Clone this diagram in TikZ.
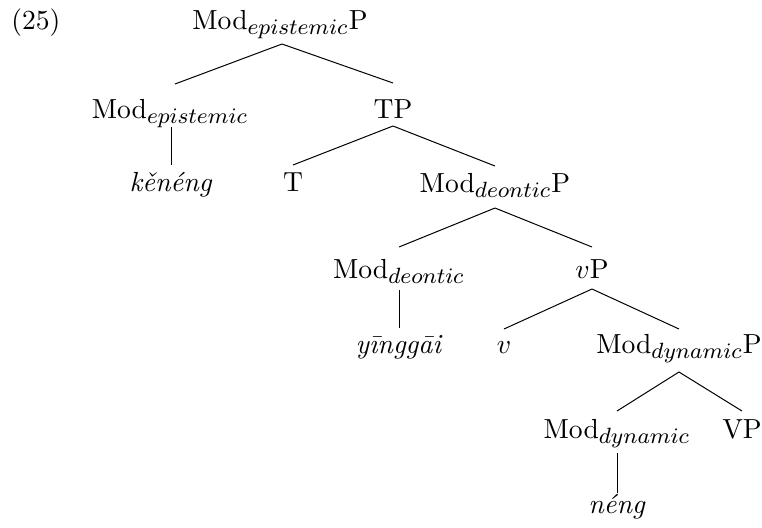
\documentclass[tikz,border=0pt]{standalone}
\usepackage{fontspec}
\usepackage{graphicx}
\usetikzlibrary{calc}
\DeclareMathSizes{10}{10}{7.7}{5}
\newcommand{\tx}[1]{\scalebox{1.38}{\fontsize{10}{12}\selectfont #1}}
\begin{document}
\begin{tikzpicture}[x=0.5pt,y=-0.5pt,
  lab/.style={anchor=base,inner sep=0pt},
  br/.style={line width=0.5pt}]
\useasboundingbox (0,0) rectangle (762,527);
\node[lab,anchor=base west] (ex) at (11,29) {\tx{(25)}};
\node[lab] (r) at (280,29) {\tx{Mod$_{epistemic}$P}};
\node[lab] (me) at (170,118) {\tx{Mod$_{epistemic}$}};
\node[lab] (tp) at (393,118) {\tx{TP}};
\node[lab] (ken) at (171,191) {\tx{\textit{kěnéng}}};
\node[lab] (t) at (293,191) {\tx{T}};
\node[lab] (mdp) at (495,192) {\tx{Mod$_{deontic}$P}};
\node[lab] (md) at (399,278) {\tx{Mod$_{deontic}$}};
\node[lab] (vp) at (592,278) {\tx{$v$P}};
\node[lab] (ying) at (399,353) {\tx{\textit{yīnggāi}}};
\node[lab] (v) at (504,353) {\tx{$v$}};
\node[lab] (mdyp) at (679,353) {\tx{Mod$_{dynamic}$P}};
\node[lab] (mdy) at (617,438) {\tx{Mod$_{dynamic}$}};
\node[lab] (vpp) at (742,438) {\tx{VP}};
\node[lab] (neng) at (617,513) {\tx{\textit{néng}}};
\draw[br] ($(r.base)+(2,15)$) -- ($(me.base)+(5,-34)$);
\draw[br] ($(r.base)+(2,15)$) -- ($(tp.base)+(0,-35)$);
\draw[br] ($(me.base)+(1,9)$) -- ($(ken.base)+(0,-26)$);
\draw[br] ($(tp.base)+(0,8)$) -- ($(t.base)+(0,-26)$);
\draw[br] ($(tp.base)+(0,8)$) -- ($(mdp.base)+(0,-26)$);
\draw[br] ($(mdp.base)+(0,16)$) -- ($(md.base)+(0,-31)$);
\draw[br] ($(mdp.base)+(0,16)$) -- ($(vp.base)+(0,-31)$);
\draw[br] ($(md.base)+(0,12)$) -- ($(ying.base)+(0,-25)$);
\draw[br] ($(vp.base)+(0,11)$) -- ($(v.base)+(0,-24)$);
\draw[br] ($(vp.base)+(0,11)$) -- ($(mdyp.base)+(0,-24)$);
\draw[br] ($(mdyp.base)+(0,19)$) -- ($(mdy.base)+(0,-27)$);
\draw[br] ($(mdyp.base)+(0,19)$) -- ($(vpp.base)+(0,-27)$);
\draw[br] ($(mdy.base)+(0,15)$) -- ($(neng.base)+(0,-20)$);
\end{tikzpicture}
\end{document}
